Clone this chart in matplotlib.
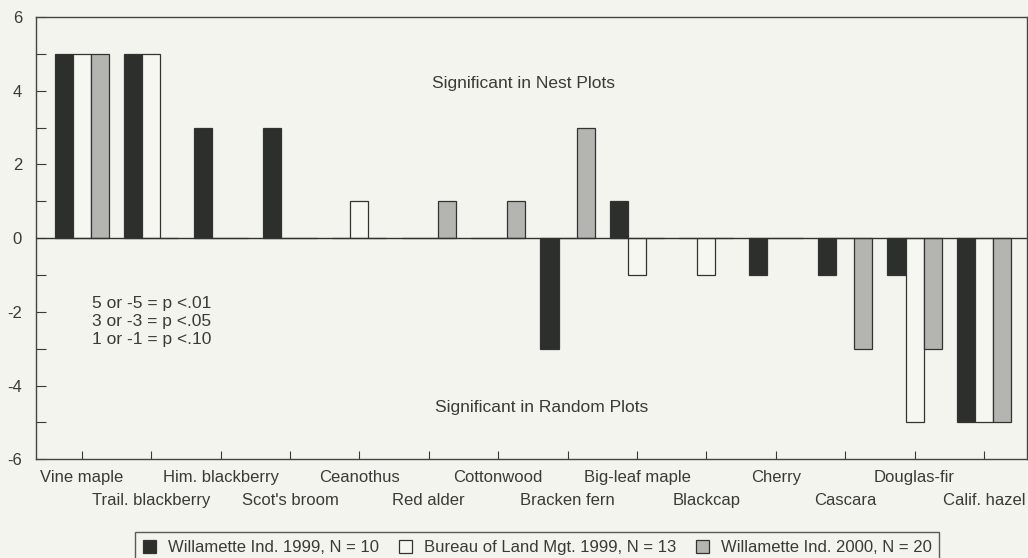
import matplotlib
matplotlib.use("Agg")
import matplotlib.pyplot as plt
import numpy as np

plt.rcParams["font.family"] = ["Liberation Sans", "DejaVu Sans"]
plt.rcParams["axes.unicode_minus"] = False

species = ["Vine maple", "Trail. blackberry", "Him. blackberry", "Scot's broom",
           "Ceanothus", "Red alder", "Cottonwood", "Bracken fern",
           "Big-leaf maple", "Blackcap", "Cherry", "Cascara",
           "Douglas-fir", "Calif. hazel"]

willamette_1999 = [5, 5, 3, 3, 0, 0, 0, -3, 1, 0, -1, -1, -1, -5]
blm_1999 = [5, 5, 0, 0, 1, 0, 0, 0, -1, -1, 0, 0, -5, -5]
willamette_2000 = [5, 0, 0, 0, 0, 1, 1, 3, 0, 0, 0, -3, -3, -5]

series_labels = ["Willamette Ind. 1999, N = 10",
                 "Bureau of Land Mgt. 1999, N = 13",
                 "Willamette Ind. 2000, N = 20"]
series_values = [willamette_1999, blm_1999, willamette_2000]
series_colors = ["#2c2f2b", "#f7f7f2", "#b4b5b0"]

bg = "#f4f4ee"
ink = "#3a3a38"

fig = plt.figure(figsize=(10.28, 5.58), dpi=100, facecolor=bg)
ax = fig.add_axes([0.035, 0.177, 0.964, 0.7925], facecolor=bg)

x = np.arange(len(species))
w = 0.26
for k, (vals, col, lab) in enumerate(zip(series_values, series_colors, series_labels)):
    ax.bar(x + (k - 1) * w, vals, width=w, color=col, edgecolor="#333333",
           linewidth=0.9, label=lab, zorder=2)

ax.axhline(0, color="#333333", linewidth=1.0, zorder=3)

ax.set_xlim(-0.66, 13.62)
ax.set_ylim(-6, 6)
ax.set_yticks(np.arange(-6, 7, 2))
ax.set_yticks(np.arange(-5, 6, 2), minor=True)

# staggered category labels: even ones on the first row, odd ones below
even = x[::2]
odd = x[1::2]
ax.set_xticks(even)
ax.set_xticklabels([species[i] for i in even])
ax.set_xticks(odd, minor=True)
ax.set_xticklabels([species[i] for i in odd], minor=True)

ax.tick_params(axis="y", which="both", direction="in", length=7, width=0.8,
               colors=ink, labelsize=12, pad=10)
ax.tick_params(axis="x", which="major", direction="in", length=6, width=0.8,
               colors=ink, labelsize=12, pad=8)
ax.tick_params(axis="x", which="minor", direction="in", length=6, width=0.8,
               colors=ink, labelsize=12, pad=24)

for s in ax.spines.values():
    s.set_color("#444444")
    s.set_linewidth(1.0)

ax.text(6.36, 4.2, "Significant in Nest Plots", ha="center", va="center",
        fontsize=12.5, color=ink)
ax.text(6.62, -4.59, "Significant in Random Plots", ha="center", va="center",
        fontsize=12.5, color=ink)
ax.text(1.01, -2.26, "5 or -5 = p <.01\n3 or -3 = p <.05\n1 or -1 = p <.10",
        ha="center", va="center", fontsize=12.5, color=ink, linespacing=1.27)

leg = fig.legend(loc="upper center", bbox_to_anchor=(0.5225, 1 - 524 / 558),
                 ncol=3, frameon=True, fontsize=12, handlelength=0.8,
                 handleheight=0.8, handletextpad=0.7, columnspacing=1.2,
                 borderpad=0.45, fancybox=False)
leg.get_frame().set_edgecolor("#333333")
leg.get_frame().set_facecolor(bg)
leg.get_frame().set_linewidth(1.0)
for t in leg.get_texts():
    t.set_color(ink)

fig.savefig("out.png", dpi=100, facecolor=bg)
